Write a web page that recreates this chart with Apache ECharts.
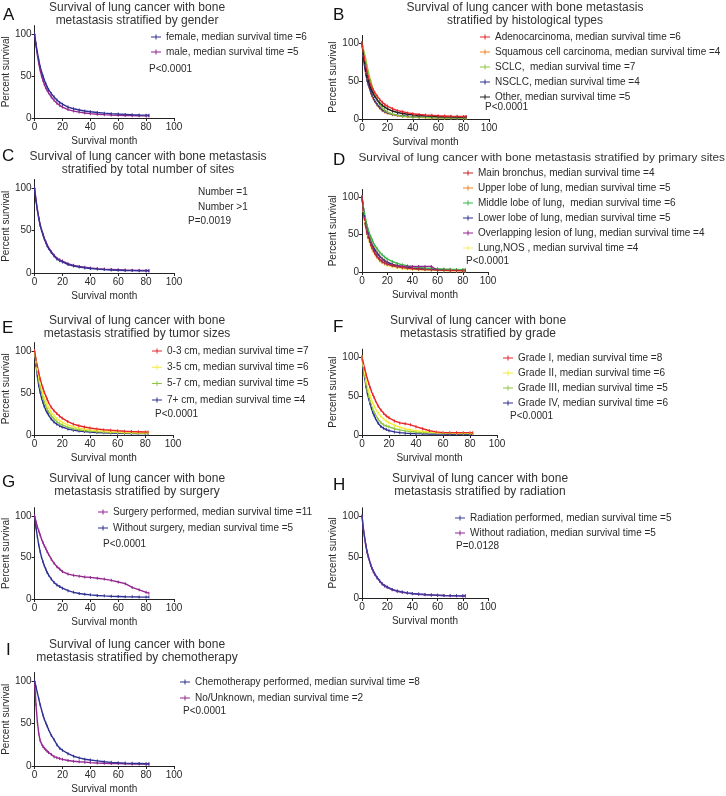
<!DOCTYPE html>
<html><head><meta charset="utf-8">
<script src="https://cdn.jsdelivr.net/npm/echarts@6/dist/echarts.min.js"></script>
<style>html,body{margin:0;padding:0;background:#fff}#c{width:726px;height:796px}</style>
</head><body><div id="c"></div>
<script>
// ---------- DATA ----------
const months = [0,1,2,3,4,5,6,7,8,9,10,12,14,16,18,20,24,28,32,36,40,45,50,55,60,65,70,75,80,82];
const xTicks = [0,20,40,60,80,100];
const yTicks = [0,50,100];

// A gender
const aNames = ['female, median survival time =6','male, median survival time =5'];
const aFemale = [100,88,78,69,61,55,50,45,41,37,34,29,25,21.5,18.5,16.5,13,11,9.5,8.3,7.5,6.5,5.8,5.2,4.7,4.3,3.9,3.6,3.4,3.4];
const aMale   = [100,86,75,65,57,50,45,40,36,33,30,25,21,17.5,15,13,10,8.2,7,6,5.2,4.5,4,3.6,3.3,3,2.8,2.6,2.5,2.5];

// B histological types
const bNames = ['Adenocarcinoma, median survival time =6','Squamous cell carcinoma, median survival time =4','SCLC,  median survival time =7','NSCLC, median survival time =4','Other, median survival time =5'];
const bAdeno    = [100,89,79,70,62,55,50,45,41,38,35,30,25.5,22,19,17,13.5,11,9.5,8,7,6,5.3,4.8,4.3,4,3.7,3.5,3.3,3.3];
const bSquamous = [100,84,71,60,52,45,39,34,30,26,23,18,14,11,9,7.5,5.5,4.3,3.5,3,2.6,2.2,1.9,1.7,1.5,1.4,1.3,1.2,1.1,1.1];
const bSCLC     = [100,93,86,78,70,62,55,49,43,38,33,25,19,14.5,11.5,9.5,6.5,4.8,3.8,3.2,2.7,2.2,1.9,1.7,1.5,1.4,1.3,1.2,1.1,1.1];
const bNSCLC    = [100,83,70,59,51,45,40,35,31,27,24,19,15,12,10,8.5,6.3,5,4.2,3.6,3.1,2.7,2.4,2.1,1.9,1.8,1.7,1.6,1.5,1.5];
const bOther    = [100,86,74,64,56,50,45,40,36,33,30,25,21,18,15.5,13.5,10.5,8.5,7.2,6.2,5.4,4.7,4.1,3.7,3.3,3,2.8,2.6,2.5,2.5];

// C total number of sites
const cNames = ['Number =1','Number >1'];
const cOne  = [100,86,75,65,57,51,46,41,37,33,30,25,21,17.5,15.5,14,11,9,7.7,6.8,6,5.2,4.6,4.2,3.8,3.5,3.3,3.1,3,3];
const cMore = [100,85,74,64,56,50,45,40,36,32,29,24,20,16.5,14.5,13,10,8.2,7,6,5.3,4.6,4,3.6,3.3,3,2.8,2.6,2.5,2.5];

// D primary sites
const dNames = ['Main bronchus, median survival time =4','Upper lobe of lung, median survival time =5','Middle lobe of lung,  median survival time =6','Lower lobe of lung, median survival time =5','Overlapping lesion of lung, median survival time =4','Lung,NOS , median survival time =4'];
const dMain    = [100,83,70,60,52,46,41,36,32,28,25,20,16,13.5,12,10.5,8.3,6.8,5.8,5,4.3,3.7,3.2,2.8,2.5,2.2,2,1.8,1.6,1.6];
const dUpper   = [100,86,75,65,57,51,46,41,37,34,31,26,21.5,18,15.5,13.5,10.5,8.6,7.3,6.3,5.5,4.8,4.2,3.8,3.4,3.1,2.9,2.7,2.6,2.6];
const dMiddle  = [100,88,78,69,62,56,51,47,43,39,36,31,26.5,23,20,17.5,14,11.5,9.6,8.2,7.2,6.2,5.4,4.8,4.3,3.9,3.6,3.4,3.2,3.2];
const dLower   = [100,86,75,65,57,51,45,40,36,33,30,25,21,17.5,15,13,10.2,8.4,7.1,6.2,5.4,4.7,4.1,3.7,3.3,3,2.8,2.6,2.5,2.5];
const dOverlap = [100,84,71,60,52,46,41,37,33,29,26,21,17,14,12,10.5,9,8,7.5,7.5,7.5,7.5,7.5,7.5,2,null,null,null,null,null];
const dNOS     = [100,82,68,57,49,43,38,33,29,26,23,18,14.5,12,10,8.5,6.5,5.2,4.3,3.7,3.2,2.8,2.4,2.1,1.9,1.7,1.6,1.5,1.4,1.4];

// E tumor sizes
const eNames = ['0-3 cm, median survival time =7','3-5 cm, median survival time =6','5-7 cm, median survival time =5','7+ cm, median survival time =4'];
const eS03 = [100,90,82,74,67,61,56,51,47,43,39,33,29,25.5,22.5,20,16,13,11,9.5,8.3,7.2,6.3,5.6,5,4.5,4.1,3.8,3.5,3.5];
const eS35 = [100,88,78,69,61,55,49,44,40,36,33,27,23,19.5,17,15,12,9.8,8.2,7,6,5.2,4.5,4,3.6,3.2,3,2.8,2.6,2.6];
const eS57 = [100,86,75,65,57,50,44,39,35,31,28,23,19,16,13.5,12,9.3,7.5,6.2,5.3,4.6,4,3.5,3.1,2.8,2.5,2.3,2.2,2.1,2.1];
const eS7p = [100,83,70,59,51,44,39,34,30,27,24,19,15.5,13,11,9.5,7.2,5.8,4.8,4.1,3.5,3,2.6,2.3,2.1,1.9,1.8,1.7,1.6,1.6];

// F grade
const fNames = ['Grade I, median survival time =8','Grade II, median survival time =6','Grade III, median survival time =5','Grade IV, median survival time =6'];
const fG1 = [100,92,85,78,72,66,61,56,52,48,44,37,32,28,24.5,22,18,15.5,14.5,13,10.7,8,5.5,4,3,3,3,3,3,3];
const fG2 = [100,89,79,70,62,56,50,45,41,37,34,28,24,20.5,18,16,12.5,10,8,6.5,5.5,4.5,3.8,3.3,3,2.8,2.6,2.5,2.4,2.4];
const fG3 = [100,86,75,65,56,49,43,38,33,29,26,20,16,13,11.5,10.5,8,6.5,5.3,4.5,3.8,3.2,2.8,2.5,2.3,2.1,2,1.9,1.8,1.8];
const fG4 = [100,86,73,62,53,46,40,34,29,25,21,15,11,8.5,7,5.6,4,3,2.4,2,1.7,1.5,1.3,1.2,1.1,1,1,1,1,1];

// G surgery
const gNames = ['Surgery performed, median survival time =11','Without surgery, median survival time =5'];
const gSurg = [100,93,87,82,77,72,68,64,61,57,54,48,43,39,36,33,30,28.5,27.5,26.5,26,25,24,22.5,20.5,18.5,14,11,8,7];
const gNo   = [100,86,75,65,57,50,45,40,36,32,29,24,20,17,15,13,10,8,6.7,5.7,5,4.3,3.8,3.4,3.1,2.8,2.6,2.4,2.3,2.3];

// H radiation
const hNames = ['Radiation performed, median survival time =5','Without radiation, median survival time =5'];
const hRad = [100,86,75,65,57,51,45,40,36,33,30,25,21,17.5,15,13.5,10.5,8.6,7.3,6.3,5.5,4.8,4.2,3.8,3.4,3.1,2.9,2.7,2.6,2.6];
const hNo  = [100,85,74,64,56,50,45,40,36,32,29,24.5,20.5,17,14.5,13,10,8.2,7,6,5.2,4.5,4,3.6,3.3,3,2.8,2.6,2.5,2.5];

// I chemotherapy
const iNames = ['Chemotherapy performed, median survival time =8','No/Unknown, median survival time =2'];
const iChemo = [100,93,86,79,72,66,60,55,51,47,43,36,31,25,21,18.5,14.5,11.5,9.5,8,7,6,5,4.3,3.8,3.4,3.1,2.9,2.7,2.7];
const iNo    = [100,72,52,38,30,26,23,21,19,17.5,16,13.5,11,9.8,8.7,7.8,6.5,5.6,5,4.5,4,3.5,3.2,3,2.8,2.6,2.4,2.3,2.2,2.2];

const titles = [
 'Survival of lung cancer with bone\nmetastasis stratified by gender',
 'Survival of lung cancer with bone metastasis\nstratified by histological types',
 'Survival of lung cancer with bone metastasis\nstratified by total number of sites',
 'Survival of lung cancer with bone metastasis stratified by primary sites',
 'Survival of lung cancer with bone\nmetastasis stratified by tumor sizes',
 'Survival of lung cancer with bone\nmetastasis stratified by grade',
 'Survival of lung cancer with bone\nmetastasis stratified by surgery',
 'Survival of lung cancer with bone\nmetastasis stratified by radiation',
 'Survival of lung cancer with bone\nmetastasis stratified by chemotherapy'
];
const letters = ['A','B','C','D','E','F','G','H','I'];
const pValues = ['P<0.0001','P<0.0001','P=0.0019','P<0.0001','P<0.0001','P<0.0001','P<0.0001','P=0.0128','P<0.0001'];

// ---------- STYLE / LAYOUT ----------
const FONT = '"Liberation Sans", Arial, Helvetica, sans-serif';
const TXT = '#2a2a2a';
const COL = {navy:'#2e3192', purple:'#93278f', red:'#e8262a', dred:'#c1272d', orange:'#f58220', green:'#8dc63f', dgreen:'#39b54a', black:'#231f20', yellow:'#f4ec3b', lyellow:'#f6f07a', indigo:'#3c3c9e'};
const ICON = 'path://M0,2.5h10v1h-10z M4.5,0.5h1v5h-1z';

const layout = [
 {x0:33, x100:174, y100:34,  y0:118, lx:3,   ly:14,  tx:137, ty:8,   ta:'center', tf:12,   legL:151, legT:31,  gap:3, px:149, py:70},
 {x0:362,x100:489, y100:43,  y0:119, lx:333, ly:14,  tx:525, ty:8,   ta:'center', tf:12,   legL:480, legT:31,  gap:3, px:485, py:108},
 {x0:33, x100:174, y100:188, y0:273, lx:2,   ly:155, tx:148, ty:157, ta:'center', tf:12,   legL:183, legT:186, gap:3, px:188, py:222, hideIcon:true},
 {x0:362,x100:488, y100:197, y0:272, lx:333, ly:159, tx:725, ty:158, ta:'right',  tf:11.8, legL:463, legT:167, gap:3, px:466, py:262},
 {x0:33, x100:173, y100:351, y0:435, lx:2,   ly:327, tx:137, ty:321, ta:'center', tf:12,   legL:152, legT:345, gap:4.3, px:155, py:415},
 {x0:362,x100:497, y100:357, y0:435, lx:333, ly:326, tx:478, ty:321, ta:'center', tf:12,   legL:503, legT:352, gap:3, px:510, py:417},
 {x0:33, x100:174, y100:516, y0:599, lx:2,   ly:481, tx:137, ty:479, ta:'center', tf:12,   legL:98,  legT:506, gap:4, px:103, py:545},
 {x0:362,x100:488, y100:516, y0:598, lx:333, ly:484, tx:480, ty:479, ta:'center', tf:12,   legL:455, legT:512, gap:3, px:456, py:547},
 {x0:33, x100:174, y100:681, y0:766, lx:6,   ly:649, tx:137, ty:645, ta:'center', tf:12,   legL:180, legT:676, gap:4, px:183, py:712}
];

// series per panel: [name, values, color]; drawn in listed order (later on top)
const panelSeries = [
 [[aNames[1], aMale, COL.purple],[aNames[0], aFemale, COL.navy]],
 [[bNames[1], bSquamous, COL.orange],[bNames[3], bNSCLC, COL.navy],[bNames[2], bSCLC, COL.green],[bNames[4], bOther, COL.black],[bNames[0], bAdeno, COL.red]],
 [[cNames[0], cOne, COL.purple],[cNames[1], cMore, COL.navy]],
 [[dNames[5], dNOS, COL.lyellow],[dNames[1], dUpper, COL.orange],[dNames[3], dLower, COL.navy],[dNames[2], dMiddle, COL.dgreen],[dNames[4], dOverlap, COL.purple],[dNames[0], dMain, COL.dred]],
 [[eNames[3], eS7p, COL.navy],[eNames[2], eS57, COL.green],[eNames[1], eS35, COL.yellow],[eNames[0], eS03, COL.red]],
 [[fNames[3], fG4, COL.navy],[fNames[2], fG3, COL.green],[fNames[1], fG2, COL.yellow],[fNames[0], fG1, COL.red]],
 [[gNames[1], gNo, COL.navy],[gNames[0], gSurg, COL.purple]],
 [[hNames[1], hNo, COL.purple],[hNames[0], hRad, COL.indigo]],
 [[iNames[1], iNo, COL.purple],[iNames[0], iChemo, COL.navy]]
];
const legendOrder = [aNames,bNames,cNames,dNames,eNames,fNames,gNames,hNames,iNames];

const grids=[], xAxes=[], yAxes=[], series=[], legends=[], graphics=[];
layout.forEach((L,k)=>{
  const h100 = L.y0 - L.y100;
  const top = L.y100 - 0.1*h100;
  grids.push({left:L.x0, top:top, width:L.x100-L.x0, height:L.y0-top, containLabel:false});
  xAxes.push({gridIndex:k, type:'value', min:xTicks[0], max:xTicks[xTicks.length-1], interval:20,
    name:'Survival month', nameLocation:'middle', nameGap:18,
    nameTextStyle:{fontSize:10, color:TXT, fontFamily:FONT},
    axisLine:{show:true, onZero:false, lineStyle:{color:'#222', width:1}},
    axisTick:{show:true, length:3, lineStyle:{color:'#222'}},
    axisLabel:{fontSize:10, color:TXT, fontFamily:FONT, margin:4, showMaxLabel:true, showMinLabel:true},
    splitLine:{show:false}});
  yAxes.push({gridIndex:k, type:'value', min:0, max:110,
    name:'Percent survival', nameLocation:'middle', nameGap:(L.x0<100?22:24), nameRotate:90,
    nameTextStyle:{fontSize:10, color:TXT, fontFamily:FONT},
    axisLine:{show:true, onZero:false, lineStyle:{color:'#222', width:1}},
    axisTick:{show:true, length:3, customValues:yTicks, lineStyle:{color:'#222'}},
    axisLabel:{fontSize:10, color:TXT, fontFamily:FONT, margin:3, customValues:yTicks, formatter:v=>(v%50===0?String(v):'')},
    splitLine:{show:false}});
  const colorOf = {};
  panelSeries[k].forEach(([name, vals, color])=>{
    colorOf[name] = color;
    series.push({type:'line', name:name, xAxisIndex:k, yAxisIndex:k,
      data: months.map((m,i)=>[m, vals[i]]),
      color: color,
      lineStyle:{width:1.4, color:color},
      itemStyle:{color:color},
      symbol:'rect', symbolSize:[1,3], showSymbol:true, animation:false, silent:true});
  });
  const leg = {orient:'vertical', left:L.legL, top:L.legT, padding:0, itemGap:L.gap,
    itemWidth:10, itemHeight:5, icon:ICON, selectedMode:false,
    textStyle:{fontSize:10, color:TXT, fontFamily:FONT, lineHeight:12},
    data: legendOrder[k].map(n=>({name:n, icon:ICON,
      itemStyle: L.hideIcon ? {opacity:0} : {color:colorOf[n], borderWidth:0}}))};
  legends.push(leg);
  graphics.push({type:'text', left:L.lx, top:L.ly-7, style:{text:letters[k], font:'17px '+FONT, fill:'#111'}});
  graphics.push({type:'text', x:L.tx, y:L.ty-6.5, style:{text:titles[k], font:L.tf+'px '+FONT, fill:'#333', textAlign:L.ta, textVerticalAlign:'top', lineHeight:13}});
  graphics.push({type:'text', x:L.px, y:L.py-6, style:{text:pValues[k], font:'10px '+FONT, fill:TXT, textVerticalAlign:'top'}});
});

const chart = echarts.init(document.getElementById('c'));
chart.setOption({
  backgroundColor:'#fff', animation:false,
  grid:grids, xAxis:xAxes, yAxis:yAxes, series:series, legend:legends, graphic:graphics
});
</script></body></html>
